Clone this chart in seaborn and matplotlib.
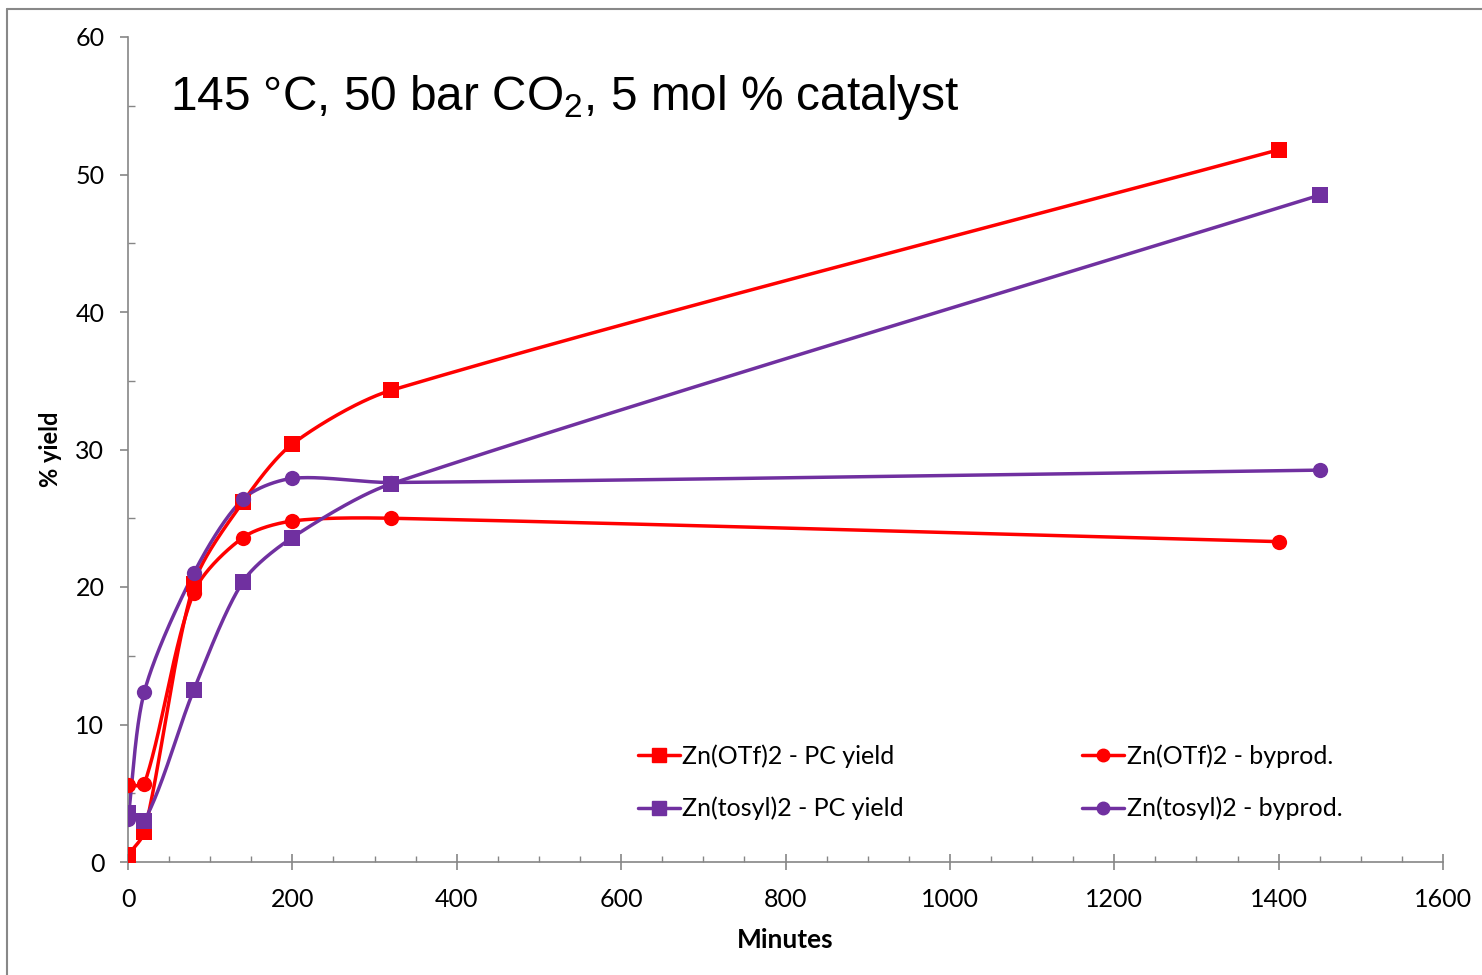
import numpy as np
import pandas as pd
import matplotlib
matplotlib.use("Agg")
import matplotlib.pyplot as plt
from matplotlib.lines import Line2D
from matplotlib.ticker import MultipleLocator
import seaborn as sns

# ---- data ----
otf_pc_x = [0, 20, 80, 140, 200, 320, 1400]
otf_pc_y = [0.5, 2.2, 20.2, 26.2, 30.4, 34.3, 51.8]
otf_by_x = [0, 20, 80, 140, 200, 320, 1400]
otf_by_y = [5.6, 5.7, 19.6, 23.6, 24.8, 25.0, 23.3]
tos_pc_x = [0, 20, 80, 140, 200, 320, 1450]
tos_pc_y = [3.6, 3.0, 12.5, 20.4, 23.6, 27.5, 48.5]
tos_by_x = [0, 20, 80, 140, 200, 320, 1450]
tos_by_y = [3.1, 12.4, 21.0, 26.4, 27.9, 27.6, 28.5]

labels = ["Zn(OTf)2 - PC yield", "Zn(tosyl)2 - PC yield",
          "Zn(OTf)2 - byprod.", "Zn(tosyl)2 - byprod."]
RED = "#FF0000"
PURPLE = "#7030A0"

sns.set_theme(style="ticks")
plt.rcParams["font.family"] = ["Lato", "DejaVu Sans"]
plt.rcParams["mathtext.fontset"] = "custom"
plt.rcParams["mathtext.rm"] = "Liberation Sans"
plt.rcParams["text.color"] = "black"
plt.rcParams["xtick.labelcolor"] = "black"
plt.rcParams["ytick.labelcolor"] = "black"

W, H = 1482, 975
fig = plt.figure(figsize=(W / 100, H / 100), dpi=100)
ax = fig.add_axes([128 / W, 1 - 862 / H, (1443 - 128) / W, (862 - 37) / H])

XMAX, YMAX = 1600, 60
SX, SY = 1315 / XMAX, 825 / YMAX  # pixel scale for smoothing


def smooth(xs, ys, n=60, frac=0.28):
    """Smoothed line through points (Bezier, tangent lengths bounded by
    the neighbouring segment length, computed in screen space)."""
    p = np.column_stack([np.asarray(xs, float) * SX, np.asarray(ys, float) * SY])
    k = len(p)
    dirs = []
    for i in range(k):
        a = p[i - 1] if i > 0 else p[i]
        b = p[i + 1] if i < k - 1 else p[i]
        d = b - a
        dirs.append(d / (np.hypot(*d) + 1e-12))
    pts = []
    for i in range(k - 1):
        p1, p2 = p[i], p[i + 1]
        L = np.hypot(*(p2 - p1))
        c1 = p1 + dirs[i] * L * frac
        c2 = p2 - dirs[i + 1] * L * frac
        t = np.linspace(0, 1, n)[:, None]
        seg = ((1 - t) ** 3) * p1 + 3 * ((1 - t) ** 2) * t * c1 + 3 * (1 - t) * t ** 2 * c2 + t ** 3 * p2
        pts.append(seg if i == 0 else seg[1:])
    pts = np.vstack(pts)
    return pts[:, 0] / SX, pts[:, 1] / SY


series = [
    (otf_pc_x, otf_pc_y, RED, "s", 12),
    (otf_by_x, otf_by_y, RED, "o", 11),
    (tos_pc_x, tos_pc_y, PURPLE, "s", 12),
    (tos_by_x, tos_by_y, PURPLE, "o", 11),
]
for xs, ys, c, m, ms in series:
    sx, sy = smooth(xs, ys)
    df = pd.DataFrame({"x": sx, "y": sy})
    sns.lineplot(data=df, x="x", y="y", sort=False, estimator=None, color=c,
                 lw=2.5, ax=ax, zorder=2)
for xs, ys, c, m, ms in series:
    ax.plot(xs, ys, linestyle="none", marker=m, markersize=ms, color=c,
            markeredgewidth=0, zorder=3)

ax.set_xlim(0, XMAX)
ax.set_ylim(0, YMAX)
ax.set_xticks(np.arange(0, 1601, 200))
ax.set_yticks(np.arange(0, 61, 10))
ax.xaxis.set_minor_locator(MultipleLocator(50))
ax.yaxis.set_minor_locator(MultipleLocator(5))
ax.tick_params(axis="x", which="major", direction="inout", length=12, width=1.2,
               color="#868686", labelsize=18, pad=13)
ax.tick_params(axis="x", which="minor", direction="in", length=4.5, width=1,
               color="#868686")
ax.tick_params(axis="y", which="major", direction="out", length=6, width=1.2,
               color="#868686", labelsize=18, pad=11)
ax.tick_params(axis="y", which="minor", direction="in", length=5, width=1,
               color="#868686")
for s in ["top", "right"]:
    ax.spines[s].set_visible(False)
for s in ["left", "bottom"]:
    ax.spines[s].set_color("#868686")
    ax.spines[s].set_linewidth(1.2)
ax.set_xlabel("")
ax.set_ylabel("")

fig.text(785 / W, 1 - 940 / H, "Minutes", ha="center", va="center",
         fontsize=19, fontweight="bold")
fig.text(50 / W, 1 - 449 / H, "% yield", ha="center", va="center",
         rotation=90, fontsize=17, fontweight="bold")
fig.text(170 / W, 1 - 110 / H, r"145 °C, 50 bar CO$_2$, 5 mol % catalyst",
         ha="left", va="baseline", fontsize=34.4, family="Liberation Sans")

handles = [
    Line2D([], [], color=RED, marker="s", lw=2.5, markersize=10),
    Line2D([], [], color=PURPLE, marker="s", lw=2.5, markersize=10),
    Line2D([], [], color=RED, marker="o", lw=2.5, markersize=9),
    Line2D([], [], color=PURPLE, marker="o", lw=2.5, markersize=9),
]
ax.legend(handles, labels, ncol=2, frameon=False, fontsize=18,
          loc="upper left", bbox_to_anchor=((615 - 128) / 1315, (862 - 722) / 825),
          handlelength=1.7, handletextpad=0.1, columnspacing=7.1, labelspacing=1.15)

# outer chart border (partially visible)
fig.add_artist(Line2D([7 / W, 1], [1 - 9 / H, 1 - 9 / H], color="#888888", lw=1.5))
fig.add_artist(Line2D([7 / W, 7 / W], [0, 1 - 9 / H], color="#888888", lw=1.5))

fig.savefig("out.png", dpi=100)
